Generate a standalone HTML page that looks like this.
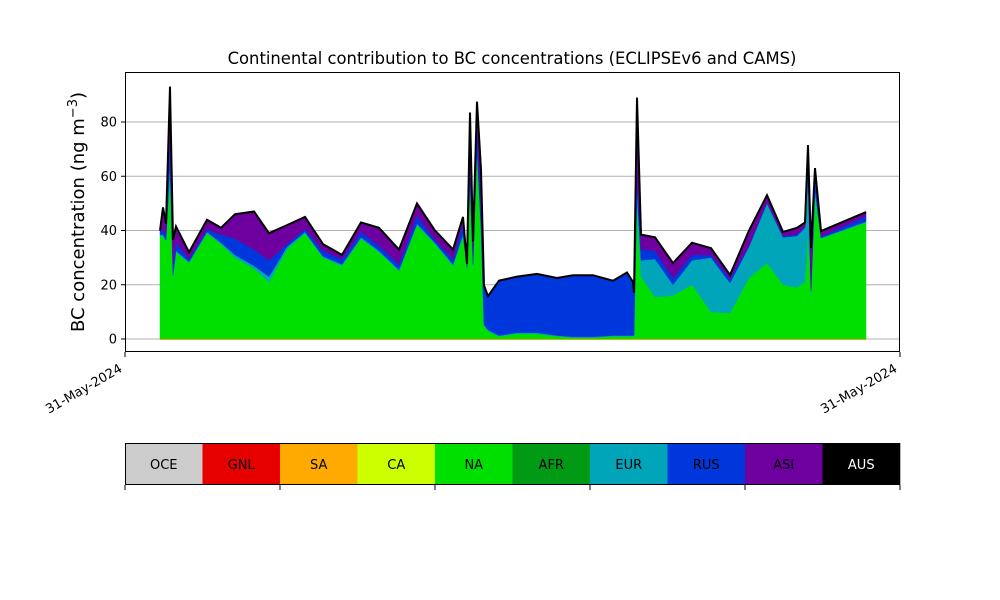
<!DOCTYPE html>
<html><head><meta charset="utf-8"><style>
body{margin:0;background:#fff;font-family:"Liberation Sans","DejaVu Sans",sans-serif}
svg{display:block}
text{font-family:"DejaVu Sans","Liberation Sans",sans-serif}
</style></head><body>
<svg id="chart" width="1000" height="600" viewBox="0 0 1000 600" xmlns="http://www.w3.org/2000/svg">
<text x="512" y="64" font-size="16.4" text-anchor="middle">Continental contribution to BC concentrations (ECLIPSEv6 and CAMS)</text>
<g id="grid"></g>
<g id="areas"></g>
<g id="axes"></g>
<text transform="translate(84,212) rotate(-90)" font-size="18" text-anchor="middle">BC concentration (ng m<tspan dy="-7" font-size="13">−3</tspan><tspan dy="7">)</tspan></text>
<g id="legend"></g>
</svg>
<script>
// time (hours from start of axis window, axis spans 0..775)
const times = [35,38,41,45,48,51,64,82,96,110,129,144,162,180,198,217,236,254,274,292,310,328,338,342,345,348,352,356,359,363,374,392,412,432,448,468,488,502,508,509,512,516,530,548,567,586,605,624,642,658,672,680,683,686,690,696,741];
const NA  = [38,38,36,60,23,32,28,39,35,30,26,21,33,39,30,27,37,32,25,42,35,27,38,26,58,27,70,40,5,3,1,2,2,1,0.5,0.5,1,1,1,1,50,23,15.5,16,20,10,9.6,22.5,28,20,19,21,40,17,53,37,43];
const EUR = [0.5,0.5,0.5,5,0.5,0.5,0.5,0.5,0.5,1,1,2,1,0.5,0.5,0.5,0.5,0.5,0.5,0.5,0.5,0.5,0.5,0.5,0.5,0.5,0.5,0.5,0.3,0.3,0.3,0.3,0.3,0.3,0.3,0.3,0.3,0.3,0.3,0.3,5,6,14,4,9,20,11,11.5,22,17.5,19,20,20,0.5,2,0.3,0.3];
const RUS = [1,2,2,10,4,3,1,1,3,6,6,6,1,1,2,2,2,2,2,3,1,2,4,1,7,3,8,5,14,12,20,20.5,21.5,21,22.5,22.5,20,23,19.5,15.5,5,4,3,2.5,2,1,1.5,0.5,0.5,0.5,0.5,0.5,5,1,5,0.5,2];
const ASI = [0.5,8,4,18,9,6,2.5,3.5,2.5,9,14,10,7,4.5,2.5,1.5,3.5,6.5,5.5,4.5,3.5,3.5,2.5,0.2,18,5.5,9,17,0.5,0.5,0.2,0.2,0.2,0.2,0.2,0.2,0.2,0.2,0.2,0.2,29,5.5,5,5.5,4.5,2.5,1.5,5.5,2.5,1.5,2.5,1.5,6.5,15,3,2,1.5];
const yTicks = [0,20,40,60,80];
const xTickLabels = ["31-May-2024","31-May-2024"];
const legendNames = ["OCE","GNL","SA","CA","NA","AFR","EUR","RUS","ASI","AUS"];
const legendColors = ["#cccccc","#e60000","#ffaa00","#ccff00","#00e000","#009a14","#00a5b9","#0037dd","#6e009f","#000000"];

const NS="http://www.w3.org/2000/svg";
const L=125,R=900,T=72,B=352;
const xs=t=>L+t*(R-L)/775;
const ys=v=>339-v*(339-122)/80;
function mk(tag,attrs,parent){const e=document.createElementNS(NS,tag);for(const k in attrs)e.setAttribute(k,attrs[k]);parent.appendChild(e);return e;}
const grid=document.getElementById('grid'),areas=document.getElementById('areas'),axes=document.getElementById('axes'),legend=document.getElementById('legend');
yTicks.forEach(v=>{
  const g=mk('line',{x1:L,x2:R,y1:ys(v),y2:ys(v),stroke:'#b0b0b0','stroke-width':1},grid);
  
  
  const tk=mk('line',{x1:L-4,x2:L,y1:ys(v),y2:ys(v),stroke:'#000'},axes);
  
  
  const tx=mk('text',{x:L-8,y:ys(v)+4.5,'font-size':13,'text-anchor':'end'},axes);
  tx.textContent=v;
  
  
});
const layers=[["na",NA,"#00e000"],["eur",EUR,"#00a5b9"],["rus",RUS,"#0037dd"],["asi",ASI,"#6e009f"]];
let base=times.map(()=>0);
layers.forEach(([n,arr,c])=>{
  const top=base.map((b,i)=>b+arr[i]);
  let d='M'+times.map((t,i)=>xs(t).toFixed(1)+','+ys(top[i]).toFixed(1)).join('L');
  for(let i=times.length-1;i>=0;i--)d+='L'+xs(times[i]).toFixed(1)+','+ys(base[i]).toFixed(1);
  const p=mk('path',{d:d+'Z',fill:c,stroke:c,'stroke-width':0.5},areas);
  
  
  base=top;
});
const bl=mk('line',{x1:xs(times[0]),x2:xs(times[times.length-1]),y1:ys(0)+0.5,y2:ys(0)+0.5,stroke:'#e0b000','stroke-width':1},areas);


const tl=mk('path',{d:'M'+times.map((t,i)=>xs(t).toFixed(1)+','+ys(base[i]).toFixed(1)).join('L'),fill:'none',stroke:'#000','stroke-width':2,'stroke-linejoin':'miter'},areas);


const fr=mk('rect',{x:L+0.5,y:T+0.5,width:R-L-1,height:B-T-1,fill:'none',stroke:'#000','stroke-width':1},axes);


[L,R].forEach((x,i)=>{
  const tk=mk('line',{x1:x,x2:x,y1:B,y2:B+5,stroke:'#000'},axes);
  
  
  const tx=mk('text',{transform:`translate(${x-2},${B+19}) rotate(-30)`,'font-size':13,'text-anchor':'end'},axes);
  tx.textContent=xTickLabels[i];
  
  
});
const cw=(R-L)/legendNames.length;
legendNames.forEach((n,i)=>{
  const r=mk('rect',{x:L+i*cw,y:443,width:cw+0.3,height:42,fill:legendColors[i]},legend);
  
  
  const t=mk('text',{x:L+i*cw+cw/2,y:469,'font-size':13,'text-anchor':'middle',fill:n==='AUS'?'#fff':'#000'},legend);
  t.textContent=n;
  
  
});
const lf=mk('rect',{x:L+0.5,y:443.5,width:R-L-1,height:41,fill:'none',stroke:'#000'},legend);


for(let i=0;i<=5;i++){
  const x=L+i*(R-L)/5;
  const tk=mk('line',{x1:x,x2:x,y1:485,y2:490,stroke:'#000'},legend);
  
  
}
</script>
</body></html>
